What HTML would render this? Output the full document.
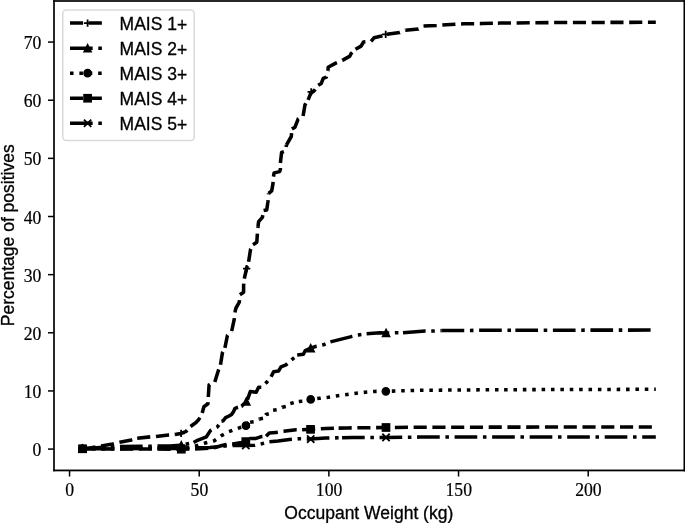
<!DOCTYPE html><html><head><meta charset="utf-8"><style>html,body{margin:0;padding:0;background:#fff;}svg{display:block;}</style></head><body>
<svg width="685" height="523" viewBox="0 0 685 523">
<rect width="685" height="523" fill="#fff"/>
<path d="M82.50 448.80 L90.00 448.00 L101.30 446.10 L112.70 444.00 L119.70 442.30 L131.50 439.90 L137.20 438.20" fill="none" stroke="#000" stroke-width="3.54" stroke-linejoin="round" stroke-dasharray="13.10 5.66" stroke-dashoffset="0.00"/>
<path d="M137.20 438.20 L150.90 436.80 L156.10 436.50" fill="none" stroke="#000" stroke-width="3.54" stroke-linejoin="round" stroke-dasharray="13.10 5.66" stroke-dashoffset="0.00"/>
<path d="M156.10 436.50 L168.60 434.90 L175.00 434.40" fill="none" stroke="#000" stroke-width="3.54" stroke-linejoin="round" stroke-dasharray="13.10 5.66" stroke-dashoffset="0.00"/>
<path d="M175.00 434.40 L181.10 433.40 L186.20 431.30 L190.50 426.50" fill="none" stroke="#000" stroke-width="3.54" stroke-linejoin="round" stroke-dasharray="13.10 5.66" stroke-dashoffset="0.00"/>
<path d="M190.50 426.50 L196.00 422.50 L198.80 419.50 L200.50 416.50 L202.20 413.00" fill="none" stroke="#000" stroke-width="3.54" stroke-linejoin="round" stroke-dasharray="13.10 5.66" stroke-dashoffset="0.00"/>
<path d="M202.20 413.00 L203.90 406.70 L207.90 403.80 L208.30 397.01" fill="none" stroke="#000" stroke-width="3.54" stroke-linejoin="round" stroke-dasharray="13.10 5.66" stroke-dashoffset="0.00"/>
<path d="M208.30 397.01 L208.30 397.00 L209.10 384.90 L214.80 382.00" fill="none" stroke="#000" stroke-width="3.54" stroke-linejoin="round" stroke-dasharray="13.10 5.66" stroke-dashoffset="0.00"/>
<path d="M214.80 382.00 L218.50 370.00 L220.50 364.70" fill="none" stroke="#000" stroke-width="3.54" stroke-linejoin="round" stroke-dasharray="13.10 5.66" stroke-dashoffset="0.00"/>
<path d="M220.50 364.70 L222.40 352.90 L224.90 347.90" fill="none" stroke="#000" stroke-width="3.54" stroke-linejoin="round" stroke-dasharray="13.10 5.66" stroke-dashoffset="0.00"/>
<path d="M224.90 347.90 L227.40 335.50 L229.50 333.00 L231.70 331.00" fill="none" stroke="#000" stroke-width="3.54" stroke-linejoin="round" stroke-dasharray="13.10 5.66" stroke-dashoffset="0.00"/>
<path d="M231.70 331.00 L234.20 319.30 L234.90 312.10" fill="none" stroke="#000" stroke-width="3.54" stroke-linejoin="round" stroke-dasharray="13.10 5.66" stroke-dashoffset="0.00"/>
<path d="M234.90 312.10 L236.00 308.00 L239.30 302.20 L239.90 294.70" fill="none" stroke="#000" stroke-width="3.54" stroke-linejoin="round" stroke-dasharray="13.10 5.66" stroke-dashoffset="0.00"/>
<path d="M239.90 294.70 L243.60 292.20 L243.60 285.40 L244.30 278.60" fill="none" stroke="#000" stroke-width="3.54" stroke-linejoin="round" stroke-dasharray="13.10 5.66" stroke-dashoffset="0.00"/>
<path d="M244.30 278.60 L246.70 268.00 L248.60 261.80" fill="none" stroke="#000" stroke-width="3.54" stroke-linejoin="round" stroke-dasharray="13.10 5.66" stroke-dashoffset="0.00"/>
<path d="M248.60 261.80 L250.60 249.00 L253.00 244.70" fill="none" stroke="#000" stroke-width="3.54" stroke-linejoin="round" stroke-dasharray="13.10 5.66" stroke-dashoffset="0.00"/>
<path d="M253.00 244.70 L256.80 242.20 L257.40 233.50 L258.00 226.70" fill="none" stroke="#000" stroke-width="3.54" stroke-linejoin="round" stroke-dasharray="13.10 5.66" stroke-dashoffset="0.00"/>
<path d="M258.00 226.70 L258.60 221.70 L262.40 217.40 L263.60 210.50" fill="none" stroke="#000" stroke-width="3.54" stroke-linejoin="round" stroke-dasharray="13.10 5.66" stroke-dashoffset="0.00"/>
<path d="M263.60 210.50 L266.70 209.90 L268.00 201.20 L268.60 193.40" fill="none" stroke="#000" stroke-width="3.54" stroke-linejoin="round" stroke-dasharray="13.10 5.66" stroke-dashoffset="0.00"/>
<path d="M268.60 193.40 L271.70 190.90 L272.90 184.10 L273.50 176.60" fill="none" stroke="#000" stroke-width="3.54" stroke-linejoin="round" stroke-dasharray="13.10 5.66" stroke-dashoffset="0.00"/>
<path d="M273.50 176.60 L274.10 172.90 L279.70 171.60 L280.40 169.20 L280.40 163.00" fill="none" stroke="#000" stroke-width="3.54" stroke-linejoin="round" stroke-dasharray="13.10 5.66" stroke-dashoffset="0.00"/>
<path d="M280.40 163.00 L281.60 152.40 L285.30 151.10 L286.50 144.90" fill="none" stroke="#000" stroke-width="3.54" stroke-linejoin="round" stroke-dasharray="13.10 5.66" stroke-dashoffset="0.00"/>
<path d="M286.50 144.90 L291.30 136.50 L291.90 129.10" fill="none" stroke="#000" stroke-width="3.54" stroke-linejoin="round" stroke-dasharray="13.10 5.66" stroke-dashoffset="0.00"/>
<path d="M291.90 129.10 L295.00 127.20 L298.10 119.10 L303.10 116.00" fill="none" stroke="#000" stroke-width="3.54" stroke-linejoin="round" stroke-dasharray="13.10 5.66" stroke-dashoffset="0.00"/>
<path d="M303.10 116.00 L305.00 104.80 L308.10 99.90" fill="none" stroke="#000" stroke-width="3.54" stroke-linejoin="round" stroke-dasharray="13.10 5.66" stroke-dashoffset="0.00"/>
<path d="M308.10 99.90 L310.60 93.70 L314.90 89.90 L318.20 85.30" fill="none" stroke="#000" stroke-width="3.54" stroke-linejoin="round" stroke-dasharray="13.10 5.66" stroke-dashoffset="0.00"/>
<path d="M318.20 85.30 L321.30 83.40 L323.20 78.40 L326.30 77.20 L328.10 70.40" fill="none" stroke="#000" stroke-width="3.54" stroke-linejoin="round" stroke-dasharray="13.10 5.66" stroke-dashoffset="0.00"/>
<path d="M328.10 70.40 L328.10 67.30 L336.20 62.90 L342.40 60.40" fill="none" stroke="#000" stroke-width="3.54" stroke-linejoin="round" stroke-dasharray="13.10 5.66" stroke-dashoffset="0.00"/>
<path d="M342.40 60.40 L349.90 56.10 L351.10 53.60 L355.50 49.30" fill="none" stroke="#000" stroke-width="3.54" stroke-linejoin="round" stroke-dasharray="13.10 5.66" stroke-dashoffset="0.00"/>
<path d="M355.50 49.30 L361.10 46.10 L363.50 42.00 L371.10 41.30" fill="none" stroke="#000" stroke-width="3.54" stroke-linejoin="round" stroke-dasharray="13.10 5.66" stroke-dashoffset="0.00"/>
<path d="M371.10 41.30 L374.00 37.80 L381.60 36.00 L385.70 34.30 L386.93 34.14" fill="none" stroke="#000" stroke-width="3.54" stroke-linejoin="round" stroke-dasharray="13.10 5.66" stroke-dashoffset="0.00"/>
<path d="M386.93 34.14 L399.70 32.50 L405.50 30.20" fill="none" stroke="#000" stroke-width="3.54" stroke-linejoin="round" stroke-dasharray="13.10 5.66" stroke-dashoffset="0.00"/>
<path d="M405.50 30.20 L418.40 29.00 L423.60 26.10" fill="none" stroke="#000" stroke-width="3.54" stroke-linejoin="round" stroke-dasharray="13.10 5.66" stroke-dashoffset="0.00"/>
<path d="M423.60 26.10 L436.50 25.50 L446.30 24.70 L463.90 23.80 L481.40 23.60 L497.86 23.16" fill="none" stroke="#000" stroke-width="3.54" stroke-linejoin="round" stroke-dasharray="13.10 5.66" stroke-dashoffset="0.00"/>
<path d="M497.86 23.16 L500.00 23.10 L516.62 22.93" fill="none" stroke="#000" stroke-width="3.54" stroke-linejoin="round" stroke-dasharray="13.10 5.66" stroke-dashoffset="0.00"/>
<path d="M516.62 22.93 L535.38 22.75" fill="none" stroke="#000" stroke-width="3.54" stroke-linejoin="round" stroke-dasharray="13.10 5.66" stroke-dashoffset="0.00"/>
<path d="M535.38 22.75 L554.14 22.56" fill="none" stroke="#000" stroke-width="3.54" stroke-linejoin="round" stroke-dasharray="13.10 5.66" stroke-dashoffset="0.00"/>
<path d="M554.14 22.56 L560.00 22.50 L572.90 22.47" fill="none" stroke="#000" stroke-width="3.54" stroke-linejoin="round" stroke-dasharray="13.10 5.66" stroke-dashoffset="0.00"/>
<path d="M572.90 22.47 L591.66 22.43" fill="none" stroke="#000" stroke-width="3.54" stroke-linejoin="round" stroke-dasharray="13.10 5.66" stroke-dashoffset="0.00"/>
<path d="M591.66 22.43 L610.42 22.39" fill="none" stroke="#000" stroke-width="3.54" stroke-linejoin="round" stroke-dasharray="13.10 5.66" stroke-dashoffset="0.00"/>
<path d="M610.42 22.39 L629.18 22.36" fill="none" stroke="#000" stroke-width="3.54" stroke-linejoin="round" stroke-dasharray="13.10 5.66" stroke-dashoffset="0.00"/>
<path d="M629.18 22.36 L647.95 22.32" fill="none" stroke="#000" stroke-width="3.54" stroke-linejoin="round" stroke-dasharray="13.10 5.66" stroke-dashoffset="0.00"/>
<path d="M647.95 22.32 L655.80 22.30" fill="none" stroke="#000" stroke-width="3.54" stroke-linejoin="round" stroke-dasharray="13.10 5.66" stroke-dashoffset="0.00"/>
<path d="M78.85 448.80H86.15M82.50 445.15V452.45" stroke="#000" stroke-width="1.80" fill="none"/>
<path d="M177.45 433.40H184.75M181.10 429.75V437.05" stroke="#000" stroke-width="1.80" fill="none"/>
<path d="M243.05 268.60H250.35M246.70 264.95V272.25" stroke="#000" stroke-width="1.80" fill="none"/>
<path d="M307.55 91.80H314.85M311.20 88.15V95.45" stroke="#000" stroke-width="1.80" fill="none"/>
<path d="M382.05 34.30H389.35M385.70 30.65V37.95" stroke="#000" stroke-width="1.80" fill="none"/>
<path d="M82.50 448.70 L100.00 447.40 L120.00 446.60 L150.00 446.20 L170.00 445.90 L181.30 445.30 L193.60 442.50" fill="none" stroke="#000" stroke-width="3.54" stroke-linejoin="round" stroke-dasharray="22.66 5.66 3.54 5.66" stroke-dashoffset="0.00"/>
<path d="M193.60 442.50 L197.50 440.30 L206.40 436.80 L210.40 430.60 L217.30 427.00 L221.50 421.20" fill="none" stroke="#000" stroke-width="3.54" stroke-linejoin="round" stroke-dasharray="22.66 5.66 3.54 5.66" stroke-dashoffset="0.00"/>
<path d="M221.50 421.20 L223.20 420.80 L225.60 417.60 L229.00 416.00 L231.60 414.40 L233.60 411.40 L234.90 408.60 L236.50 407.70 L241.40 406.26" fill="none" stroke="#000" stroke-width="3.54" stroke-linejoin="round" stroke-dasharray="22.66 5.66 3.54 5.66" stroke-dashoffset="0.00"/>
<path d="M241.40 406.26 L241.60 406.20 L246.30 401.40 L247.50 399.70" fill="none" stroke="#000" stroke-width="3.54" stroke-linejoin="round" stroke-dasharray="22.66 5.66 3.54 5.66" stroke-dashoffset="28.32"/>
<path d="M247.50 399.70 L250.30 391.60 L256.20 392.20 L258.60 387.30 L261.80 387.30 L266.70 382.30 L271.10 376.70" fill="none" stroke="#000" stroke-width="3.54" stroke-linejoin="round" stroke-dasharray="22.66 5.66 3.54 5.66" stroke-dashoffset="0.00"/>
<path d="M271.10 376.70 L273.60 371.70 L278.50 371.10 L281.00 366.80 L286.00 364.90 L292.20 359.30 L297.20 355.00" fill="none" stroke="#000" stroke-width="3.54" stroke-linejoin="round" stroke-dasharray="22.66 5.66 3.54 5.66" stroke-dashoffset="0.00"/>
<path d="M297.20 355.00 L303.40 354.30 L305.30 350.50 L310.70 348.10 L316.40 346.30 L323.40 344.80 L330.40 341.90" fill="none" stroke="#000" stroke-width="3.54" stroke-linejoin="round" stroke-dasharray="22.66 5.66 3.54 5.66" stroke-dashoffset="0.00"/>
<path d="M330.40 341.90 L351.40 336.60 L358.40 335.10 L366.60 333.70" fill="none" stroke="#000" stroke-width="3.54" stroke-linejoin="round" stroke-dasharray="22.66 5.66 3.54 5.66" stroke-dashoffset="0.00"/>
<path d="M366.60 333.70 L380.00 332.80 L386.10 333.00 L390.20 333.00 L396.00 332.70 L403.00 332.70" fill="none" stroke="#000" stroke-width="3.54" stroke-linejoin="round" stroke-dasharray="22.66 5.66 3.54 5.66" stroke-dashoffset="0.00"/>
<path d="M403.00 332.70 L425.20 331.10 L433.40 331.10 L441.60 330.60" fill="none" stroke="#000" stroke-width="3.54" stroke-linejoin="round" stroke-dasharray="22.66 5.66 3.54 5.66" stroke-dashoffset="0.00"/>
<path d="M441.60 330.60 L500.00 330.20 L515.38 330.19" fill="none" stroke="#000" stroke-width="3.54" stroke-linejoin="round" stroke-dasharray="22.66 5.66 3.54 5.66" stroke-dashoffset="0.00"/>
<path d="M515.38 330.19 L552.90 330.17" fill="none" stroke="#000" stroke-width="3.54" stroke-linejoin="round" stroke-dasharray="22.66 5.66 3.54 5.66" stroke-dashoffset="0.00"/>
<path d="M552.90 330.17 L590.42 330.14" fill="none" stroke="#000" stroke-width="3.54" stroke-linejoin="round" stroke-dasharray="22.66 5.66 3.54 5.66" stroke-dashoffset="0.00"/>
<path d="M590.42 330.14 L627.95 330.12" fill="none" stroke="#000" stroke-width="3.54" stroke-linejoin="round" stroke-dasharray="22.66 5.66 3.54 5.66" stroke-dashoffset="0.00"/>
<path d="M627.95 330.12 L655.80 330.10" fill="none" stroke="#000" stroke-width="3.54" stroke-linejoin="round" stroke-dasharray="22.66 5.66 3.54 5.66" stroke-dashoffset="0.00"/>
<path d="M82.50 444.95L78.85 452.25L86.15 452.25Z" fill="#000" stroke="#000" stroke-width="1.40" stroke-linejoin="miter"/>
<path d="M181.30 441.65L177.65 448.95L184.95 448.95Z" fill="#000" stroke="#000" stroke-width="1.40" stroke-linejoin="miter"/>
<path d="M246.30 397.75L242.65 405.05L249.95 405.05Z" fill="#000" stroke="#000" stroke-width="1.40" stroke-linejoin="miter"/>
<path d="M310.70 344.45L307.05 351.75L314.35 351.75Z" fill="#000" stroke="#000" stroke-width="1.40" stroke-linejoin="miter"/>
<path d="M386.10 329.35L382.45 336.65L389.75 336.65Z" fill="#000" stroke="#000" stroke-width="1.40" stroke-linejoin="miter"/>
<path d="M82.50 448.70 L181.30 448.00 L190.00 447.20 L195.06 446.20 L204.40 443.30 L214.30 440.80 L221.30 435.70 L228.40 431.90 L237.60 428.40 L246.00 425.70 L249.00 422.30 L250.13 422.14" fill="none" stroke="#000" stroke-width="3.54" stroke-linejoin="round" stroke-dasharray="3.54 5.84" stroke-dashoffset="0.00"/>
<path d="M250.13 422.14 L255.50 421.40 L258.00 419.30 L259.50 418.99" fill="none" stroke="#000" stroke-width="3.54" stroke-linejoin="round" stroke-dasharray="3.54 5.84" stroke-dashoffset="0.00"/>
<path d="M259.50 418.99 L263.30 418.20 L265.60 415.05" fill="none" stroke="#000" stroke-width="3.54" stroke-linejoin="round" stroke-dasharray="3.54 5.84" stroke-dashoffset="0.00"/>
<path d="M265.60 415.05 L266.00 414.50 L270.20 413.40 L273.00 410.20 L273.14 410.18" fill="none" stroke="#000" stroke-width="3.54" stroke-linejoin="round" stroke-dasharray="3.54 5.84" stroke-dashoffset="0.00"/>
<path d="M273.14 410.18 L278.80 409.30 L282.30 407.20 L282.32 407.20" fill="none" stroke="#000" stroke-width="3.54" stroke-linejoin="round" stroke-dasharray="3.54 5.84" stroke-dashoffset="0.00"/>
<path d="M282.32 407.20 L286.60 406.30 L290.20 403.50 L290.32 403.47" fill="none" stroke="#000" stroke-width="3.54" stroke-linejoin="round" stroke-dasharray="3.54 5.84" stroke-dashoffset="0.00"/>
<path d="M290.32 403.47 L294.50 402.40 L298.80 401.60" fill="none" stroke="#000" stroke-width="3.54" stroke-linejoin="round" stroke-dasharray="3.54 5.84" stroke-dashoffset="0.00"/>
<path d="M298.80 401.60 L305.00 401.00 L310.70 399.40 L319.50 398.30 L328.60 397.20 L337.80 395.70 L347.00 394.50 L356.20 393.20 L365.30 392.20 L374.50 391.40 L385.90 391.30 L420.00 390.30 L500.00 389.70 L504.09 389.69" fill="none" stroke="#000" stroke-width="3.54" stroke-linejoin="round" stroke-dasharray="3.54 5.84" stroke-dashoffset="0.00"/>
<path d="M504.09 389.69 L513.47 389.67" fill="none" stroke="#000" stroke-width="3.54" stroke-linejoin="round" stroke-dasharray="3.54 5.84" stroke-dashoffset="0.00"/>
<path d="M513.47 389.67 L522.85 389.64" fill="none" stroke="#000" stroke-width="3.54" stroke-linejoin="round" stroke-dasharray="3.54 5.84" stroke-dashoffset="0.00"/>
<path d="M522.85 389.64 L532.23 389.62" fill="none" stroke="#000" stroke-width="3.54" stroke-linejoin="round" stroke-dasharray="3.54 5.84" stroke-dashoffset="0.00"/>
<path d="M532.23 389.62 L541.61 389.59" fill="none" stroke="#000" stroke-width="3.54" stroke-linejoin="round" stroke-dasharray="3.54 5.84" stroke-dashoffset="0.00"/>
<path d="M541.61 389.59 L550.99 389.57" fill="none" stroke="#000" stroke-width="3.54" stroke-linejoin="round" stroke-dasharray="3.54 5.84" stroke-dashoffset="0.00"/>
<path d="M550.99 389.57 L560.38 389.54" fill="none" stroke="#000" stroke-width="3.54" stroke-linejoin="round" stroke-dasharray="3.54 5.84" stroke-dashoffset="0.00"/>
<path d="M560.38 389.54 L569.76 389.52" fill="none" stroke="#000" stroke-width="3.54" stroke-linejoin="round" stroke-dasharray="3.54 5.84" stroke-dashoffset="0.00"/>
<path d="M569.76 389.52 L579.14 389.50" fill="none" stroke="#000" stroke-width="3.54" stroke-linejoin="round" stroke-dasharray="3.54 5.84" stroke-dashoffset="0.00"/>
<path d="M579.14 389.50 L588.52 389.47" fill="none" stroke="#000" stroke-width="3.54" stroke-linejoin="round" stroke-dasharray="3.54 5.84" stroke-dashoffset="0.00"/>
<path d="M588.52 389.47 L597.90 389.45" fill="none" stroke="#000" stroke-width="3.54" stroke-linejoin="round" stroke-dasharray="3.54 5.84" stroke-dashoffset="0.00"/>
<path d="M597.90 389.45 L607.28 389.42" fill="none" stroke="#000" stroke-width="3.54" stroke-linejoin="round" stroke-dasharray="3.54 5.84" stroke-dashoffset="0.00"/>
<path d="M607.28 389.42 L616.66 389.40" fill="none" stroke="#000" stroke-width="3.54" stroke-linejoin="round" stroke-dasharray="3.54 5.84" stroke-dashoffset="0.00"/>
<path d="M616.66 389.40 L626.04 389.38" fill="none" stroke="#000" stroke-width="3.54" stroke-linejoin="round" stroke-dasharray="3.54 5.84" stroke-dashoffset="0.00"/>
<path d="M626.04 389.38 L635.42 389.35" fill="none" stroke="#000" stroke-width="3.54" stroke-linejoin="round" stroke-dasharray="3.54 5.84" stroke-dashoffset="0.00"/>
<path d="M635.42 389.35 L644.80 389.33" fill="none" stroke="#000" stroke-width="3.54" stroke-linejoin="round" stroke-dasharray="3.54 5.84" stroke-dashoffset="0.00"/>
<path d="M644.80 389.33 L654.19 389.30" fill="none" stroke="#000" stroke-width="3.54" stroke-linejoin="round" stroke-dasharray="3.54 5.84" stroke-dashoffset="0.00"/>
<path d="M654.19 389.30 L655.80 389.30" fill="none" stroke="#000" stroke-width="3.54" stroke-linejoin="round" stroke-dasharray="3.54 5.84" stroke-dashoffset="0.00"/>
<circle cx="82.50" cy="448.70" r="3.65" fill="#000" stroke="#000" stroke-width="1.40"/>
<circle cx="181.30" cy="448.00" r="3.65" fill="#000" stroke="#000" stroke-width="1.40"/>
<circle cx="245.90" cy="425.70" r="3.65" fill="#000" stroke="#000" stroke-width="1.40"/>
<circle cx="310.70" cy="399.40" r="3.65" fill="#000" stroke="#000" stroke-width="1.40"/>
<circle cx="385.85" cy="391.37" r="3.65" fill="#000" stroke="#000" stroke-width="1.40"/>
<path d="M82.50 448.80 L181.30 449.20 L195.00 449.00 L205.00 448.50 L215.00 447.50 L222.00 445.50 L226.00 444.50 L233.00 444.00 L241.50 442.50 L245.80 441.60 L250.00 438.60 L255.30 438.60 L260.50 436.80 L266.10 436.20" fill="none" stroke="#000" stroke-width="3.54" stroke-linejoin="round" stroke-dasharray="13.10 5.66" stroke-dashoffset="0.00"/>
<path d="M266.10 436.20 L269.30 433.00 L276.00 432.40 L278.10 432.20 L283.70 431.20" fill="none" stroke="#000" stroke-width="3.54" stroke-linejoin="round" stroke-dasharray="13.10 5.66" stroke-dashoffset="0.00"/>
<path d="M283.70 431.20 L296.00 429.70 L302.10 429.70" fill="none" stroke="#000" stroke-width="3.54" stroke-linejoin="round" stroke-dasharray="13.10 5.66" stroke-dashoffset="0.00"/>
<path d="M302.10 429.70 L310.55 429.35 L325.60 428.50 L338.61 428.14" fill="none" stroke="#000" stroke-width="3.54" stroke-linejoin="round" stroke-dasharray="13.10 5.66" stroke-dashoffset="0.00"/>
<path d="M338.61 428.14 L347.00 427.90 L357.35 427.84" fill="none" stroke="#000" stroke-width="3.54" stroke-linejoin="round" stroke-dasharray="13.10 5.66" stroke-dashoffset="0.00"/>
<path d="M357.35 427.84 L365.30 427.80 L376.12 427.64" fill="none" stroke="#000" stroke-width="3.54" stroke-linejoin="round" stroke-dasharray="13.10 5.66" stroke-dashoffset="0.00"/>
<path d="M376.12 427.64 L386.00 427.50 L394.87 427.42" fill="none" stroke="#000" stroke-width="3.54" stroke-linejoin="round" stroke-dasharray="13.10 5.66" stroke-dashoffset="0.00"/>
<path d="M394.87 427.42 L413.63 427.26" fill="none" stroke="#000" stroke-width="3.54" stroke-linejoin="round" stroke-dasharray="13.10 5.66" stroke-dashoffset="0.00"/>
<path d="M413.63 427.26 L420.00 427.20 L432.39 427.19" fill="none" stroke="#000" stroke-width="3.54" stroke-linejoin="round" stroke-dasharray="13.10 5.66" stroke-dashoffset="0.00"/>
<path d="M432.39 427.19 L451.15 427.17" fill="none" stroke="#000" stroke-width="3.54" stroke-linejoin="round" stroke-dasharray="13.10 5.66" stroke-dashoffset="0.00"/>
<path d="M451.15 427.17 L469.92 427.16" fill="none" stroke="#000" stroke-width="3.54" stroke-linejoin="round" stroke-dasharray="13.10 5.66" stroke-dashoffset="0.00"/>
<path d="M469.92 427.16 L488.68 427.14" fill="none" stroke="#000" stroke-width="3.54" stroke-linejoin="round" stroke-dasharray="13.10 5.66" stroke-dashoffset="0.00"/>
<path d="M488.68 427.14 L507.44 427.13" fill="none" stroke="#000" stroke-width="3.54" stroke-linejoin="round" stroke-dasharray="13.10 5.66" stroke-dashoffset="0.00"/>
<path d="M507.44 427.13 L526.20 427.11" fill="none" stroke="#000" stroke-width="3.54" stroke-linejoin="round" stroke-dasharray="13.10 5.66" stroke-dashoffset="0.00"/>
<path d="M526.20 427.11 L544.96 427.09" fill="none" stroke="#000" stroke-width="3.54" stroke-linejoin="round" stroke-dasharray="13.10 5.66" stroke-dashoffset="0.00"/>
<path d="M544.96 427.09 L563.73 427.08" fill="none" stroke="#000" stroke-width="3.54" stroke-linejoin="round" stroke-dasharray="13.10 5.66" stroke-dashoffset="0.00"/>
<path d="M563.73 427.08 L582.49 427.06" fill="none" stroke="#000" stroke-width="3.54" stroke-linejoin="round" stroke-dasharray="13.10 5.66" stroke-dashoffset="0.00"/>
<path d="M582.49 427.06 L601.25 427.05" fill="none" stroke="#000" stroke-width="3.54" stroke-linejoin="round" stroke-dasharray="13.10 5.66" stroke-dashoffset="0.00"/>
<path d="M601.25 427.05 L620.01 427.03" fill="none" stroke="#000" stroke-width="3.54" stroke-linejoin="round" stroke-dasharray="13.10 5.66" stroke-dashoffset="0.00"/>
<path d="M620.01 427.03 L638.77 427.01" fill="none" stroke="#000" stroke-width="3.54" stroke-linejoin="round" stroke-dasharray="13.10 5.66" stroke-dashoffset="0.00"/>
<path d="M638.77 427.01 L655.80 427.00" fill="none" stroke="#000" stroke-width="3.54" stroke-linejoin="round" stroke-dasharray="13.10 5.66" stroke-dashoffset="0.00"/>
<rect x="78.90" y="445.15" width="7.30" height="7.30" fill="#000" stroke="#000" stroke-width="1.40" stroke-linejoin="miter"/>
<rect x="177.65" y="445.55" width="7.30" height="7.30" fill="#000" stroke="#000" stroke-width="1.40" stroke-linejoin="miter"/>
<rect x="242.15" y="437.95" width="7.30" height="7.30" fill="#000" stroke="#000" stroke-width="1.40" stroke-linejoin="miter"/>
<rect x="306.90" y="425.70" width="7.30" height="7.30" fill="#000" stroke="#000" stroke-width="1.40" stroke-linejoin="miter"/>
<rect x="382.35" y="423.85" width="7.30" height="7.30" fill="#000" stroke="#000" stroke-width="1.40" stroke-linejoin="miter"/>
<path d="M82.50 448.80 L181.30 448.40 L195.00 447.80 L210.00 447.50 L225.00 446.00 L235.00 445.20 L245.80 445.40 L254.70 445.30 L261.70 443.80 L268.70 441.80 L269.40 441.74" fill="none" stroke="#000" stroke-width="3.54" stroke-linejoin="round" stroke-dasharray="22.66 5.66 3.54 5.66" stroke-dashoffset="0.00"/>
<path d="M269.40 441.74 L278.00 441.00 L289.50 439.50 L298.50 438.80 L310.70 438.90 L325.60 438.10 L342.05 437.74" fill="none" stroke="#000" stroke-width="3.54" stroke-linejoin="round" stroke-dasharray="22.66 5.66 3.54 5.66" stroke-dashoffset="0.00"/>
<path d="M342.05 437.74 L353.10 437.50 L379.56 437.42" fill="none" stroke="#000" stroke-width="3.54" stroke-linejoin="round" stroke-dasharray="22.66 5.66 3.54 5.66" stroke-dashoffset="0.00"/>
<path d="M379.56 437.42 L386.00 437.40 L417.08 437.13" fill="none" stroke="#000" stroke-width="3.54" stroke-linejoin="round" stroke-dasharray="22.66 5.66 3.54 5.66" stroke-dashoffset="0.00"/>
<path d="M417.08 437.13 L420.00 437.10 L454.60 437.07" fill="none" stroke="#000" stroke-width="3.54" stroke-linejoin="round" stroke-dasharray="22.66 5.66 3.54 5.66" stroke-dashoffset="0.00"/>
<path d="M454.60 437.07 L492.13 437.04" fill="none" stroke="#000" stroke-width="3.54" stroke-linejoin="round" stroke-dasharray="22.66 5.66 3.54 5.66" stroke-dashoffset="0.00"/>
<path d="M492.13 437.04 L529.65 437.01" fill="none" stroke="#000" stroke-width="3.54" stroke-linejoin="round" stroke-dasharray="22.66 5.66 3.54 5.66" stroke-dashoffset="0.00"/>
<path d="M529.65 437.01 L567.18 436.98" fill="none" stroke="#000" stroke-width="3.54" stroke-linejoin="round" stroke-dasharray="22.66 5.66 3.54 5.66" stroke-dashoffset="0.00"/>
<path d="M567.18 436.98 L604.70 436.94" fill="none" stroke="#000" stroke-width="3.54" stroke-linejoin="round" stroke-dasharray="22.66 5.66 3.54 5.66" stroke-dashoffset="0.00"/>
<path d="M604.70 436.94 L642.22 436.91" fill="none" stroke="#000" stroke-width="3.54" stroke-linejoin="round" stroke-dasharray="22.66 5.66 3.54 5.66" stroke-dashoffset="0.00"/>
<path d="M642.22 436.91 L655.80 436.90" fill="none" stroke="#000" stroke-width="3.54" stroke-linejoin="round" stroke-dasharray="22.66 5.66 3.54 5.66" stroke-dashoffset="0.00"/>
<path d="M78.85 445.15L86.15 452.45M78.85 452.45L86.15 445.15" stroke="#000" stroke-width="1.80" fill="none"/>
<path d="M177.65 444.75L184.95 452.05M177.65 452.05L184.95 444.75" stroke="#000" stroke-width="1.80" fill="none"/>
<path d="M242.15 441.75L249.45 449.05M242.15 449.05L249.45 441.75" stroke="#000" stroke-width="1.80" fill="none"/>
<path d="M307.05 435.45L314.35 442.75M307.05 442.75L314.35 435.45" stroke="#000" stroke-width="1.80" fill="none"/>
<path d="M382.35 433.75L389.65 441.05M382.35 441.05L389.65 433.75" stroke="#000" stroke-width="1.80" fill="none"/>
<rect x="53.16" y="0.16" width="1.68" height="471.17" fill="#000"/>
<rect x="53.16" y="0.16" width="632" height="1.68" fill="#000"/>
<rect x="53.16" y="469.55" width="632" height="1.78" fill="#000"/>
<rect x="683.48" y="0.16" width="2" height="471.17" fill="#000"/>
<path d="M69.55 470.50V476.50" stroke="#000" stroke-width="1.5"/>
<text transform="translate(69.75 495.8) scale(0.95 1)" text-anchor="middle" style='font-family:"Liberation Serif",serif;font-size:18.6px;stroke:#000;stroke-width:0.2px'>0</text>
<path d="M199.22 470.50V476.50" stroke="#000" stroke-width="1.5"/>
<text transform="translate(199.42 495.8) scale(0.95 1)" text-anchor="middle" style='font-family:"Liberation Serif",serif;font-size:18.6px;stroke:#000;stroke-width:0.2px'>50</text>
<path d="M328.88 470.50V476.50" stroke="#000" stroke-width="1.5"/>
<text transform="translate(329.08 495.8) scale(0.95 1)" text-anchor="middle" style='font-family:"Liberation Serif",serif;font-size:18.6px;stroke:#000;stroke-width:0.2px'>100</text>
<path d="M458.55 470.50V476.50" stroke="#000" stroke-width="1.5"/>
<text transform="translate(458.75 495.8) scale(0.95 1)" text-anchor="middle" style='font-family:"Liberation Serif",serif;font-size:18.6px;stroke:#000;stroke-width:0.2px'>150</text>
<path d="M588.21 470.50V476.50" stroke="#000" stroke-width="1.5"/>
<text transform="translate(588.41 495.8) scale(0.95 1)" text-anchor="middle" style='font-family:"Liberation Serif",serif;font-size:18.6px;stroke:#000;stroke-width:0.2px'>200</text>
<path d="M54.00 449.08H48.00" stroke="#000" stroke-width="1.5"/>
<text transform="translate(41.4 456.18) scale(0.95 1)" text-anchor="end" style='font-family:"Liberation Serif",serif;font-size:18.6px;stroke:#000;stroke-width:0.2px'>0</text>
<path d="M54.00 390.94H48.00" stroke="#000" stroke-width="1.5"/>
<text transform="translate(41.4 398.04) scale(0.95 1)" text-anchor="end" style='font-family:"Liberation Serif",serif;font-size:18.6px;stroke:#000;stroke-width:0.2px'>10</text>
<path d="M54.00 332.79H48.00" stroke="#000" stroke-width="1.5"/>
<text transform="translate(41.4 339.89) scale(0.95 1)" text-anchor="end" style='font-family:"Liberation Serif",serif;font-size:18.6px;stroke:#000;stroke-width:0.2px'>20</text>
<path d="M54.00 274.65H48.00" stroke="#000" stroke-width="1.5"/>
<text transform="translate(41.4 281.75) scale(0.95 1)" text-anchor="end" style='font-family:"Liberation Serif",serif;font-size:18.6px;stroke:#000;stroke-width:0.2px'>30</text>
<path d="M54.00 216.51H48.00" stroke="#000" stroke-width="1.5"/>
<text transform="translate(41.4 223.61) scale(0.95 1)" text-anchor="end" style='font-family:"Liberation Serif",serif;font-size:18.6px;stroke:#000;stroke-width:0.2px'>40</text>
<path d="M54.00 158.36H48.00" stroke="#000" stroke-width="1.5"/>
<text transform="translate(41.4 165.46) scale(0.95 1)" text-anchor="end" style='font-family:"Liberation Serif",serif;font-size:18.6px;stroke:#000;stroke-width:0.2px'>50</text>
<path d="M54.00 100.22H48.00" stroke="#000" stroke-width="1.5"/>
<text transform="translate(41.4 107.32) scale(0.95 1)" text-anchor="end" style='font-family:"Liberation Serif",serif;font-size:18.6px;stroke:#000;stroke-width:0.2px'>60</text>
<path d="M54.00 42.08H48.00" stroke="#000" stroke-width="1.5"/>
<text transform="translate(41.4 49.18) scale(0.95 1)" text-anchor="end" style='font-family:"Liberation Serif",serif;font-size:18.6px;stroke:#000;stroke-width:0.2px'>70</text>
<text x="368.8" y="518.7" text-anchor="middle" style='font-family:"Liberation Sans",sans-serif;font-size:17.5px;stroke:#000;stroke-width:0.3px'>Occupant Weight (kg)</text>
<text transform="translate(13.8 235.25) rotate(-90)" x="0" y="0" text-anchor="middle" style='font-family:"Liberation Sans",sans-serif;font-size:17.5px;stroke:#000;stroke-width:0.3px'>Percentage of positives</text>
<rect x="62.75" y="10.0" width="131.5" height="130.4" rx="3.5" ry="3.5" fill="#fff" fill-opacity="0.8" stroke="#dadada" stroke-width="1.5"/>
<path d="M70.00 23.10 L105.40 23.10" fill="none" stroke="#000" stroke-width="3.54" stroke-linejoin="round" stroke-dasharray="13.10 5.66" stroke-dashoffset="0.00"/>
<path d="M83.95 23.10H91.25M87.60 19.45V26.75" stroke="#000" stroke-width="1.80" fill="none"/>
<text x="119.6" y="29.70" style='font-family:"Liberation Sans",sans-serif;font-size:17.5px;stroke:#000;stroke-width:0.3px'>MAIS 1<tspan dy="1.3">+</tspan></text>
<path d="M70.00 48.15 L105.40 48.15" fill="none" stroke="#000" stroke-width="3.54" stroke-linejoin="round" stroke-dasharray="22.66 5.66 3.54 5.66" stroke-dashoffset="0.00"/>
<path d="M87.60 44.50L83.95 51.80L91.25 51.80Z" fill="#000" stroke="#000" stroke-width="1.40" stroke-linejoin="miter"/>
<text x="119.6" y="54.75" style='font-family:"Liberation Sans",sans-serif;font-size:17.5px;stroke:#000;stroke-width:0.3px'>MAIS 2<tspan dy="1.3">+</tspan></text>
<path d="M70.00 73.20 L105.40 73.20" fill="none" stroke="#000" stroke-width="3.54" stroke-linejoin="round" stroke-dasharray="3.54 5.84" stroke-dashoffset="0.00"/>
<circle cx="87.60" cy="73.20" r="3.65" fill="#000" stroke="#000" stroke-width="1.40"/>
<text x="119.6" y="79.80" style='font-family:"Liberation Sans",sans-serif;font-size:17.5px;stroke:#000;stroke-width:0.3px'>MAIS 3<tspan dy="1.3">+</tspan></text>
<path d="M70.00 98.25 L105.40 98.25" fill="none" stroke="#000" stroke-width="3.54" stroke-linejoin="round" stroke-dasharray="13.10 5.66" stroke-dashoffset="0.00"/>
<rect x="83.95" y="94.60" width="7.30" height="7.30" fill="#000" stroke="#000" stroke-width="1.40" stroke-linejoin="miter"/>
<text x="119.6" y="104.85" style='font-family:"Liberation Sans",sans-serif;font-size:17.5px;stroke:#000;stroke-width:0.3px'>MAIS 4<tspan dy="1.3">+</tspan></text>
<path d="M70.00 123.30 L105.40 123.30" fill="none" stroke="#000" stroke-width="3.54" stroke-linejoin="round" stroke-dasharray="22.66 5.66 3.54 5.66" stroke-dashoffset="0.00"/>
<path d="M83.95 119.65L91.25 126.95M83.95 126.95L91.25 119.65" stroke="#000" stroke-width="1.80" fill="none"/>
<text x="119.6" y="129.90" style='font-family:"Liberation Sans",sans-serif;font-size:17.5px;stroke:#000;stroke-width:0.3px'>MAIS 5<tspan dy="1.3">+</tspan></text>
</svg></body></html>
